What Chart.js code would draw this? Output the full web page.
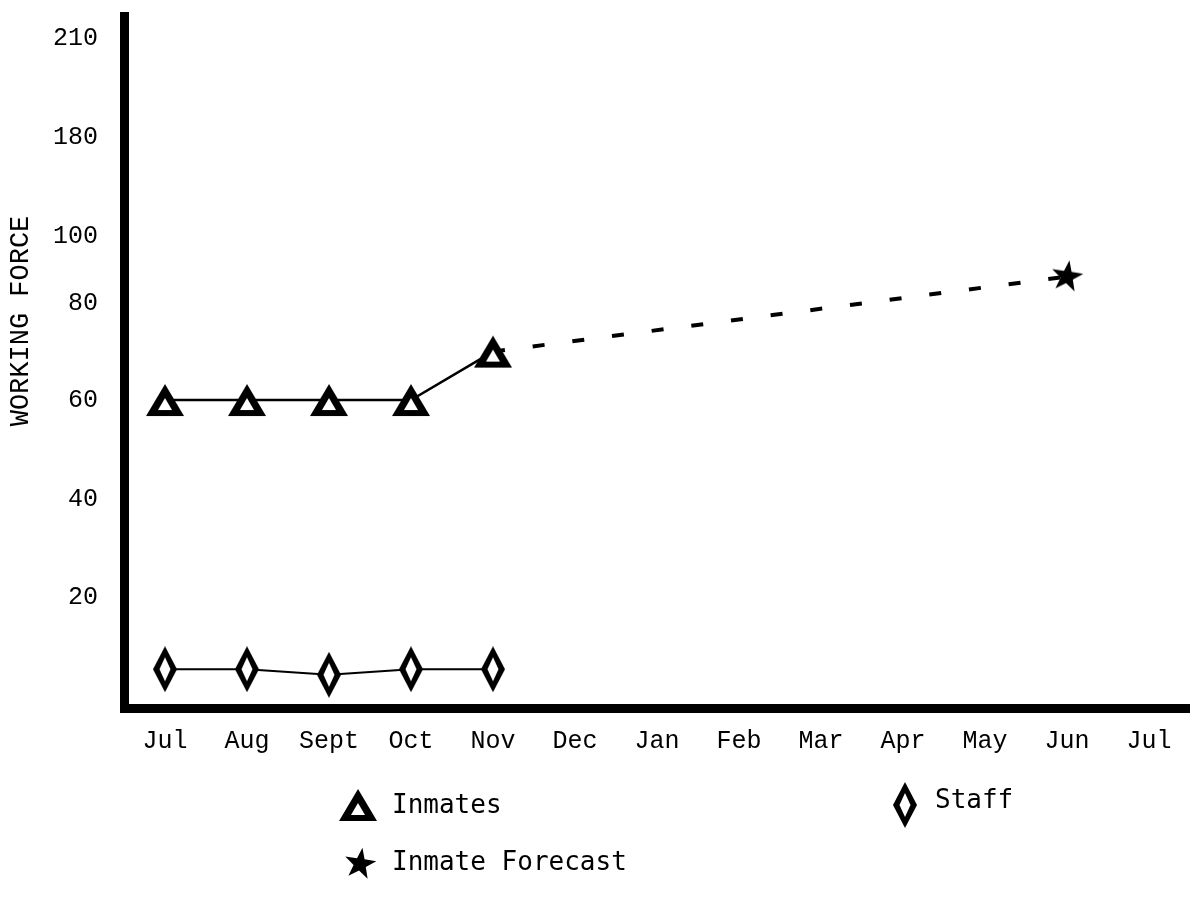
<!DOCTYPE html>
<html>
<head>
<meta charset="utf-8">
<script src="https://cdn.jsdelivr.net/npm/chart.js@4/dist/chart.umd.min.js"></script>
<style>
  html, body { margin: 0; padding: 0; background: #fff; overflow: hidden; }
  canvas { display: block; }
</style>
</head>
<body>
<canvas id="force-plot" width="1190" height="906"></canvas>
<script>
var months = ['Jul', 'Aug', 'Sept', 'Oct', 'Nov', 'Dec', 'Jan', 'Feb', 'Mar', 'Apr', 'May', 'Jun', 'Jul'];
var inmates = [60, 60, 60, 60, 70];
var staff = [7, 7, 6, 7, 7];
var inmateForecast = [null, null, null, null, 70, null, null, null, null, null, null, 88];
var yTicks = [20, 40, 60, 80, 100, 180, 210];

// the hand drawn axis is not evenly spaced, so values go through breakpoints
var yBreaks = [0, 20, 40, 60, 80, 100, 180, 210, 216];
var yFracs = [0, 0.160, 0.301, 0.445, 0.585, 0.681, 0.825, 0.968, 1];

function interp(v, from, to) {
    var n = from.length;
    if (v <= from[0]) return to[0];
    for (var i = 1; i < n; i++) {
        if (v <= from[i]) {
            var t = (v - from[i - 1]) / (from[i] - from[i - 1]);
            return to[i - 1] + t * (to[i] - to[i - 1]);
        }
    }
    return to[n - 1];
}

class PiecewiseScale extends Chart.LinearScale {
    getPixelForValue(value) {
        if (value === null || isNaN(value)) return NaN;
        var f = interp(value, yBreaks, yFracs);
        return this.bottom - f * (this.bottom - this.top);
    }
    getValueForPixel(pixel) {
        var f = (this.bottom - pixel) / (this.bottom - this.top);
        return interp(f, yFracs, yBreaks);
    }
}
PiecewiseScale.id = 'piecewise';
PiecewiseScale.defaults = Chart.LinearScale.defaults;
Chart.register(PiecewiseScale);

function makeMarker(w, h, draw) {
    var c = document.createElement('canvas');
    c.width = w;
    c.height = h;
    draw(c.getContext('2d'));
    return c;
}

var triangleMark = makeMarker(40, 34, function (g) {
    g.fillStyle = '#000';
    g.beginPath(); g.moveTo(20, 1); g.lineTo(39, 33); g.lineTo(1, 33); g.closePath(); g.fill();
    g.fillStyle = '#fff';
    g.beginPath(); g.moveTo(20, 15); g.lineTo(27, 27); g.lineTo(13, 27); g.closePath(); g.fill();
});

var diamondMark = makeMarker(24, 46, function (g) {
    g.fillStyle = '#000';
    g.beginPath(); g.moveTo(12, 0); g.lineTo(24, 23); g.lineTo(12, 46); g.lineTo(0, 23); g.closePath(); g.fill();
    g.fillStyle = '#fff';
    g.beginPath(); g.moveTo(12, 11); g.lineTo(17.5, 23); g.lineTo(12, 35); g.lineTo(6.5, 23); g.closePath(); g.fill();
});

var starMark = makeMarker(34, 34, function (g) {
    g.fillStyle = '#000';
    g.beginPath();
    for (var i = 0; i < 10; i++) {
        var r = i % 2 ? 6.5 : 16.5;
        var a = -Math.PI / 2 + i * Math.PI / 5 + 0.15;
        g.lineTo(17 + r * Math.cos(a), 17 + r * Math.sin(a));
    }
    g.closePath();
    g.fill();
});

var monoFont = { family: '"Liberation Mono", monospace', size: 25 };

var keyPlugin = {
    id: 'key',
    afterDraw: function (chart) {
        var ctx = chart.ctx;
        ctx.save();
        ctx.fillStyle = '#000';
        ctx.font = '27px "Liberation Mono", monospace';
        ctx.textAlign = 'center';
        ctx.textBaseline = 'middle';
        ctx.translate(21, 321);
        ctx.rotate(-Math.PI / 2);
        ctx.fillText('WORKING FORCE', 0, 0);
        ctx.restore();

        ctx.save();
        ctx.fillStyle = '#000';
        ctx.font = '26px "DejaVu Sans Mono", monospace';
        ctx.textBaseline = 'middle';
        ctx.drawImage(triangleMark, 358 - 20, 805 - 17);
        ctx.fillText('Inmates', 392, 806);
        ctx.drawImage(diamondMark, 905 - 12, 805 - 23);
        ctx.fillText('Staff', 935, 801);
        ctx.drawImage(starMark, 360 - 17, 864 - 17);
        ctx.fillText('Inmate Forecast', 392, 863);
        ctx.restore();
    }
};

var data = {
    labels: months,
    datasets: [{
        label: 'Inmates',
        data: inmates,
        borderColor: '#000',
        borderWidth: 2.5,
        pointStyle: triangleMark,
        pointRadius: 16,
        fill: false,
    }, {
        label: 'Inmate Forecast',
        data: inmateForecast,
        borderColor: '#000',
        borderWidth: 4,
        borderDash: [12, 28],
        spanGaps: true,
        pointStyle: starMark,
        pointRadius: function (c) { return c.dataIndex === 11 ? 16 : 0; },
        fill: false,
    }, {
        label: 'Staff',
        data: staff,
        borderColor: '#000',
        borderWidth: 2,
        pointStyle: diamondMark,
        pointRadius: 16,
        fill: false,
    }]
};

var layout = {
    type: 'line',
    data: data,
    plugins: [keyPlugin],
    options: {
        responsive: false,
        animation: false,
        layout: { autoPadding: false, padding: { top: 16, right: 0, left: 0, bottom: 0 } },
        plugins: {
            legend: { display: false },
            tooltip: { enabled: false },
        },
        scales: {
            x: {
                offset: true,
                grid: { display: false, drawTicks: false },
                border: { color: '#000', width: 9 },
                ticks: { color: '#000', font: monoFont, padding: 18, maxRotation: 0, autoSkip: false },
                afterFit: function (s) {
                    s.height = 198;
                    s.paddingLeft = 0;
                    s.paddingRight = 0;
                },
            },
            y: {
                type: 'piecewise',
                min: 0,
                max: 216,
                grid: { display: false, drawTicks: false },
                border: { color: '#000', width: 9 },
                ticks: { color: '#000', font: monoFont, padding: 26 },
                afterBuildTicks: function (s) {
                    s.ticks = yTicks.map(function (v) { return { value: v }; });
                },
                afterFit: function (s) {
                    s.width = 124;
                    s.paddingTop = 0;
                    s.paddingBottom = 0;
                },
            },
        },
    },
};

new Chart(document.getElementById('force-plot'), layout);
</script>
</body>
</html>
